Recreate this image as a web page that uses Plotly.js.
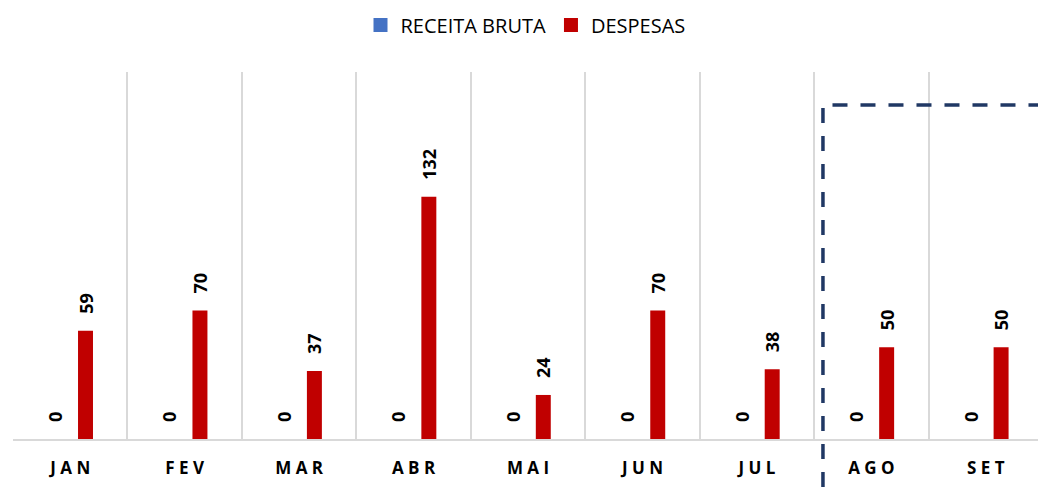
<!DOCTYPE html>
<html>
<head>
<meta charset="utf-8">
<script src="https://cdn.plot.ly/plotly-3.0.1.min.js"></script>
<style>html,body{margin:0;padding:0;background:#fff;}#chart{width:1038px;height:491px;}</style>
</head>
<body>
<div id="chart"></div>
<script>
const months = ["JAN", "FEV", "MAR", "ABR", "MAI", "JUN", "JUL", "AGO", "SET"];
const monthLabels = ["J A N", "F E V", "M A R", "A B R", "M A I", "J U N", "J U L", "A G O", "S E T"];
const seriesNames = ["RECEITA BRUTA", "DESPESAS"];
const seriesColors = ["#4472C4", "#C00000"];
const receitaBruta = [0, 0, 0, 0, 0, 0, 0, 0, 0];
const despesas = [59, 70, 37, 132, 24, 70, 38, 50, 50];

const labelFont = {family: "Open Sans, Liberation Sans, sans-serif", size: 18, color: "#000000", weight: "bold"};
const pad = "\u00A0\u00A0\u00A0";

const barTrace = (name, color, vals) => ({
  type: "bar", name: name, x: months, y: vals, showlegend: false,
  marker: {color: color},
  text: vals.map(v => pad + v), textposition: "outside", textangle: -90,
  textfont: labelFont, cliponaxis: false, constraintext: "none", hoverinfo: "skip"
});
const legendTrace = (name, color) => ({
  type: "scatter", mode: "markers", name: name, x: [null], y: [null],
  marker: {symbol: "square", size: 14, color: color}, hoverinfo: "skip"
});

const traces = [
  barTrace(seriesNames[0], seriesColors[0], receitaBruta),
  barTrace(seriesNames[1], seriesColors[1], despesas),
  legendTrace(seriesNames[0], seriesColors[0]),
  legendTrace(seriesNames[1], seriesColors[1])
];

const layout = {
  width: 1038, height: 491,
  margin: {l: 13, r: 0, t: 72, b: 52},
  paper_bgcolor: "#ffffff", plot_bgcolor: "#ffffff",
  barmode: "group", bargap: 0.466, bargroupgap: 0.51,
  showlegend: true,
  legend: {orientation: "h", x: 0.5, xanchor: "center", y: 1.128, yanchor: "middle",
           font: {family: "Open Sans, Liberation Sans, sans-serif", size: 20, color: "#000000"},
           itemclick: false, traceorder: "normal", itemwidth: 30},
  xaxis: {
    type: "category", range: [-0.5, 8.456],
    tickvals: months, ticktext: monthLabels,
    tickson: "boundaries", ticks: "", showgrid: true, gridcolor: "#D9D9D9", gridwidth: 2,
    showline: true, linecolor: "#D9D9D9", linewidth: 2,
    ticklabelstandoff: 13,
    tickfont: {family: "Open Sans, Liberation Sans, sans-serif", size: 17, color: "#000000", weight: "bold"},
    fixedrange: true
  },
  yaxis: {
    range: [0, 200], showgrid: false, zeroline: false, showticklabels: false, ticks: "", showline: false,
    fixedrange: true
  },
  shapes: [
    {type: "line", xref: "paper", yref: "paper", x0: 0.7902, x1: 0.7902, y0: 0.902, y1: -0.142,
     line: {color: "#203864", width: 3.5, dash: "15px,13px"}},
    {type: "line", xref: "paper", yref: "paper", x0: 0.7995, x1: 1.0, y0: 0.910, y1: 0.910,
     line: {color: "#203864", width: 3.5, dash: "15px,13px"}}
  ]
};

Plotly.newPlot("chart", traces, layout, {displayModeBar: false, staticPlot: true});
</script>
</body>
</html>
